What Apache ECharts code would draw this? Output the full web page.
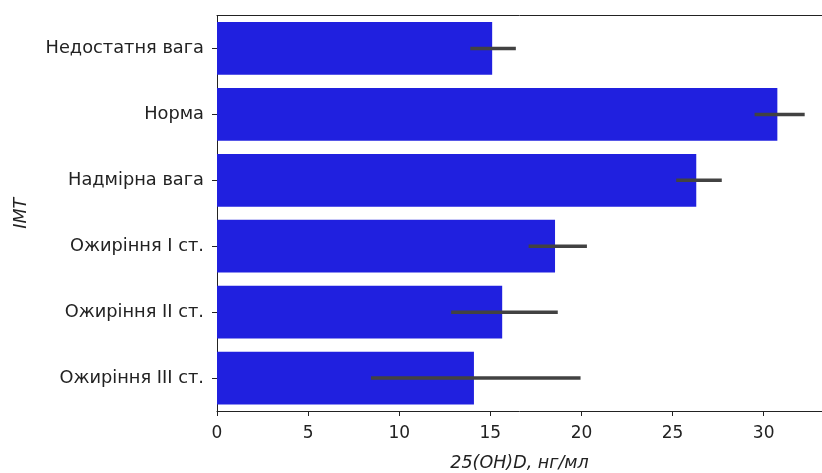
<!DOCTYPE html>
<html><head><meta charset="utf-8">
<script src="https://cdn.jsdelivr.net/npm/echarts@6/dist/echarts.min.js"></script>
<style>html,body{margin:0;padding:0;background:#fff}#c{width:822px;height:473px}</style>
</head><body><div id="c"></div>
<script>
var categories = ['Недостатня вага','Норма','Надмірна вага','Ожиріння І ст.','Ожиріння ІІ ст.','Ожиріння ІІІ ст.'];
var means = [15.1, 30.75, 26.3, 18.55, 15.65, 14.1];
var ciLow = [13.9, 29.5, 25.2, 17.1, 12.85, 8.45];
var ciHigh = [16.4, 32.25, 27.7, 20.3, 18.7, 19.95];
var xTicks = [0, 5, 10, 15, 20, 25, 30];

var font = 'DejaVu Sans';
var chart = echarts.init(document.getElementById('c'), null, {renderer:'canvas'});
var errData = categories.map(function(c,i){return [i, ciLow[i], ciHigh[i]];});
chart.setOption({
  animation:false,
  grid:{left:217,right:0,top:15.5,bottom:62,show:false,outerBoundsMode:'none',containLabel:false},
  xAxis:[{type:'value',min:0,max:33.2,interval:5,
    axisLine:{show:true,onZero:false,lineStyle:{color:'#222',width:1}},
    axisTick:{show:true,length:5,customValues:xTicks,lineStyle:{color:'#222'}},
    splitLine:{show:false},
    axisLabel:{fontFamily:font,fontSize:17,color:'#222',margin:14,customValues:xTicks},
    name:'25(OH)D, нг/мл',nameLocation:'middle',nameGap:43,
    nameTextStyle:{fontFamily:font,fontSize:17.5,fontStyle:'italic',color:'#222'}},
   {type:'value',position:'top',min:0,max:33.2,
    axisLine:{show:true,onZero:false,lineStyle:{color:'#222',width:1}},
    axisTick:{show:false},axisLabel:{show:false},splitLine:{show:false}}],
  yAxis:{type:'category',data:categories,inverse:true,
    axisLine:{show:true,lineStyle:{color:'#222',width:1}},
    axisTick:{show:true,alignWithLabel:true,length:5,lineStyle:{color:'#222'}},
    axisLabel:{fontFamily:font,fontSize:17.8,color:'#222',margin:13},
    name:'ІМТ',nameLocation:'middle',nameGap:187,nameRotate:90,
    nameTextStyle:{fontFamily:font,fontSize:17.5,fontStyle:'italic',color:'#222'}},
  series:[
    {type:'bar',data:means,barCategoryGap:'20%',itemStyle:{color:'#2020DF'},silent:true},
    {type:'custom',data:errData,silent:true,z:5,
     renderItem:function(params,api){
       var a=api.coord([api.value(1),api.value(0)]);
       var b=api.coord([api.value(2),api.value(0)]);
       return {type:'line',shape:{x1:a[0],y1:a[1],x2:b[0],y2:b[1]},
         style:{stroke:'#424242',lineWidth:3.5}};
     }}
  ]
});
</script></body></html>
